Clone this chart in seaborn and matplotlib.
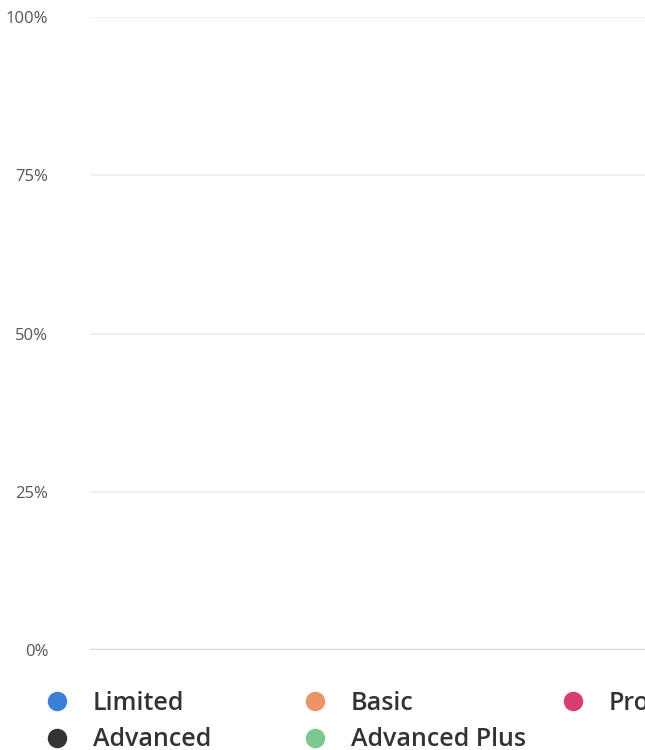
import matplotlib
matplotlib.use("Agg")
import matplotlib.pyplot as plt
from matplotlib.lines import Line2D
import seaborn as sns
import pandas as pd

# Data (all series are empty / zero in the reference)
categories = ["Total"]
levels = ["Limited", "Basic", "Pro", "Advanced", "Advanced Plus"]
values_limited = [0]
values_basic = [0]
values_pro = [0]
values_advanced = [0]
values_advanced_plus = [0]
colors = ["#3b80d6", "#eb9468", "#d93f6e", "#333333", "#7dc790"]
y_ticks = [0, 25, 50, 75, 100]
y_tick_labels = ["0%", "25%", "50%", "75%", "100%"]

sns.set_theme(style="white")
plt.rcParams["font.family"] = ["Open Sans", "DejaVu Sans"]

series = [values_limited, values_basic, values_pro, values_advanced, values_advanced_plus]
rows = []
for lvl, vals in zip(levels, series):
    for c, v in zip(categories, vals):
        rows.append({"category": c, "level": lvl, "value": v})
df = pd.DataFrame(rows)

fig = plt.figure(figsize=(6.45, 7.5), dpi=100)
ax = fig.add_axes([90 / 645, 1 - 650 / 750, 1.2, (650 - 17) / 750])

sns.barplot(data=df, x="category", y="value", hue="level", palette=colors,
            hue_order=levels, ax=ax, legend=False)

ax.set_ylim(0, 100)
ax.set_yticks(y_ticks)
ax.set_yticklabels(y_tick_labels)
ax.set_xticks([])
ax.set_xlabel("")
ax.set_ylabel("")
for s in ax.spines.values():
    s.set_visible(False)
ax.grid(axis="y", color="#eeeeee", linewidth=1.2)
ax.grid(axis="x", visible=False)
ax.axhline(0, color="#d6d7e8", linewidth=2.5, zorder=3)
ax.tick_params(axis="y", length=0, pad=30, labelsize=12, labelcolor="#555555")

# Legend: three fixed-width columns, rows filled left to right
columns = [[0, 3], [1, 4], [2]]
col_x = [47, 305, 563]
for col, x0 in zip(columns, col_x):
    handles = [Line2D([0], [0], marker="o", linestyle="", markersize=13,
                      markerfacecolor=colors[i], markeredgecolor=colors[i]) for i in col]
    labels = [levels[i] for i in col]
    leg = fig.legend(handles, labels, ncol=1, loc="upper left",
                     bbox_to_anchor=(x0 / 645, 1 - 691 / 750), frameon=False,
                     prop={"family": "Open Sans", "weight": "semibold", "size": 18},
                     handletextpad=1.04, labelspacing=0.46,
                     handlelength=0.8, borderaxespad=0, borderpad=0)
    for t in leg.get_texts():
        t.set_color("#333333")

fig.savefig("out.png", dpi=100)
